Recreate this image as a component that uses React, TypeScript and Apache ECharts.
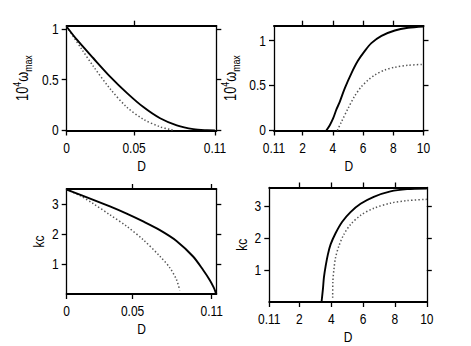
import React, { useEffect, useRef } from "react";
import * as echarts from "echarts";

// Panel 1: omega_max vs D (small D)
const p1SolidD = [0, 0.0074, 0.0198, 0.0322, 0.0446, 0.0569, 0.0693, 0.0817, 0.094, 0.104, 0.11];
const p1SolidW = [1.02, 0.895, 0.71, 0.53, 0.37, 0.23, 0.12, 0.05, 0.013, 0.002, 0];
const p1DotD = [0, 0.0111, 0.0198, 0.0322, 0.0446, 0.0569, 0.0693, 0.0767, 0.08];
const p1DotW = [1.02, 0.8, 0.63, 0.41, 0.23, 0.11, 0.036, 0.01, 0];

// Panel 2: omega_max vs D (large D)
const p2SolidD = [3.57, 3.8, 4.02, 4.24, 4.46, 4.79, 5.23, 5.67, 6.12, 6.55, 7.22, 8.1, 8.98, 10];
const p2SolidW = [0, 0.059, 0.134, 0.234, 0.319, 0.469, 0.636, 0.777, 0.885, 0.971, 1.052, 1.112, 1.142, 1.156];
const p2DotD = [4.3, 4.57, 5.01, 5.45, 5.89, 6.34, 6.78, 7.44, 8.1, 8.98, 10];
const p2DotW = [0, 0.096, 0.245, 0.383, 0.487, 0.561, 0.617, 0.673, 0.703, 0.725, 0.735];

// Panel 3: kc vs D (small D)
const p3SolidD = [0, 0.0202, 0.0328, 0.0455, 0.058, 0.0707, 0.0833, 0.0959, 0.1035, 0.1086, 0.1115, 0.1128, 0.1133];
const p3SolidK = [3.48, 3.14, 2.92, 2.68, 2.42, 2.13, 1.77, 1.25, 0.8, 0.46, 0.22, 0.08, 0];
const p3DotD = [0, 0.0101, 0.0202, 0.0328, 0.0455, 0.058, 0.0707, 0.0783, 0.0833, 0.0858];
const p3DotK = [3.48, 3.28, 3.01, 2.64, 2.26, 1.81, 1.26, 0.87, 0.48, 0.12];

// Panel 4: kc vs D (large D)
const p4SolidD = [3.39, 3.48, 3.54, 3.65, 3.79, 3.96, 4.27, 4.69, 5.21, 5.84, 6.67, 7.72, 8.76, 10];
const p4SolidK = [0, 0.42, 0.77, 1.13, 1.49, 1.8, 2.15, 2.51, 2.81, 3.07, 3.29, 3.46, 3.53, 3.55];
const p4DotD = [4.09, 4.1, 4.17, 4.27, 4.48, 4.79, 5.21, 5.84, 6.67, 7.72, 8.76, 10];
const p4DotK = [0.13, 0.62, 1.03, 1.39, 1.75, 2.11, 2.42, 2.71, 2.93, 3.09, 3.17, 3.21];

// Tick labels
const smallDTicks = [0, 0.05, 0.11];
const largeDTicks = [0.11, 2, 4, 6, 8, 10];
const omegaTicks = [0, 0.5, 1];
const kcTicks = [1, 2, 3];

const FONT = "'Liberation Sans', Arial, sans-serif";
const NARROW = 0.8;
const FS = 15;

const zip = (a: number[], b: number[]) => a.map((v, i) => [v, b[i]]);

export default function App() {
  const ref = useRef<HTMLDivElement>(null);
  useEffect(() => {
    if (!ref.current) return;
    const chart = echarts.init(ref.current, undefined, { renderer: "svg" });

    const grids = [
      { left: 66.7, top: 25.7, width: 149.6, height: 104.8 },
      { left: 274, top: 25.7, width: 149.5, height: 104.8 },
      { left: 66.7, top: 189, width: 149.6, height: 105 },
      { left: 269.3, top: 187.5, width: 157.5, height: 116 },
    ];
    const xr = [
      { min: 0, max: 0.111, labels: smallDTicks, top: [0.05] },
      { min: 0.11, max: 10, labels: largeDTicks, top: [2, 4, 6, 8] },
      { min: 0, max: 0.1135, labels: smallDTicks, top: [0.05, 0.11] },
      { min: 0.11, max: 10, labels: largeDTicks, top: [2, 4, 6, 8] },
    ];
    const yr = [
      { min: 0, max: 1.03, labels: omegaTicks, name: "omega", gap: 23 },
      { min: 0, max: 1.165, labels: omegaTicks, name: "omega", gap: 23 },
      { min: 0, max: 3.5, labels: kcTicks, name: "kc", gap: 16 },
      { min: 0, max: 3.58, labels: kcTicks, name: "kc", gap: 16 },
    ];

    const xAxis: any[] = [];
    const yAxis: any[] = [];
    const tickStyle = { color: "#000", width: 1.3 };
    xr.forEach((r, i) => {
      xAxis.push({
        type: "value",
        gridIndex: i,
        position: "bottom",
        min: r.min,
        max: r.max,
        name: "D",
        nameLocation: "middle",
        nameGap: 28,
        nameTextStyle: { fontFamily: FONT, fontSize: FS, color: "#000" },
        axisLine: { show: true, onZero: false, lineStyle: { color: "#000", width: 2 } },
        axisTick: { show: true, inside: false, length: 5, lineStyle: tickStyle, customValues: r.labels },
        axisLabel: {
          show: true,
          customValues: r.labels,
          margin: 10,
          fontFamily: FONT,
          fontSize: FS,
          color: "#000",
          formatter: (v: number) => String(v),
        },
        splitLine: { show: false },
      });
      xAxis.push({
        type: "value",
        gridIndex: i,
        position: "top",
        min: r.min,
        max: r.max,
        axisLine: { show: true, onZero: false, lineStyle: { color: "#000", width: 2 } },
        axisTick: { show: true, inside: false, length: 5, lineStyle: tickStyle, customValues: r.top },
        axisLabel: { show: false },
        splitLine: { show: false },
      });
    });
    yr.forEach((r, i) => {
      const isOmega = r.name === "omega";
      yAxis.push({
        type: "value",
        gridIndex: i,
        position: "left",
        min: r.min,
        max: r.max,
        name: isOmega ? "{a|10}{sup|4}{a|ω}{sub|max}" : "kc",
        nameLocation: "middle",
        nameGap: r.gap,
        nameTextStyle: isOmega
          ? {
              fontFamily: FONT,
              fontSize: 16,
              color: "#000",
              rich: {
                a: { fontFamily: FONT, fontSize: 16, color: "#000", lineHeight: 22, verticalAlign: "middle" },
                sup: { fontFamily: FONT, fontSize: 11, color: "#000", lineHeight: 22, verticalAlign: "top", padding: [0, 0, 6, 0] },
                sub: { fontFamily: FONT, fontSize: 11, color: "#000", lineHeight: 22, verticalAlign: "bottom", padding: [6, 0, 0, 0] },
              },
            }
          : { fontFamily: FONT, fontSize: FS, color: "#000" },
        axisLine: { show: true, onZero: false, lineStyle: { color: "#000", width: 1.3 } },
        axisTick: { show: true, inside: false, length: 5, lineStyle: tickStyle, customValues: r.labels },
        axisLabel: {
          show: true,
          customValues: r.labels,
          margin: 8,
          fontFamily: FONT,
          fontSize: FS,
          color: "#000",
          formatter: (v: number) => String(v),
        },
        splitLine: { show: false },
      });
      yAxis.push({
        type: "value",
        gridIndex: i,
        position: "right",
        min: r.min,
        max: r.max,
        axisLine: { show: true, onZero: false, lineStyle: { color: "#000", width: 1.3 } },
        axisTick: { show: true, inside: false, length: 5, lineStyle: tickStyle, customValues: r.labels },
        axisLabel: { show: false },
        splitLine: { show: false },
      });
    });

    const solid = { color: "#000", width: 1.9, type: "solid" };
    const dotted = { color: "#555", width: 1.5, type: [1.4, 2.2] };
    const mk = (i: number, data: number[][], style: any) => ({
      type: "line",
      xAxisIndex: 2 * i,
      yAxisIndex: 2 * i,
      data,
      showSymbol: false,
      symbol: "none",
      smooth: 0.3,
      lineStyle: style,
      clip: true,
      z: style === solid ? 3 : 2,
    });

    // condense the Helvetica-like text horizontally, as in the reference (narrow face)
    const condense = () => {
      const root = ref.current;
      if (!root) return;
      root.querySelectorAll("text").forEach((t) => {
        const tr = t.getAttribute("transform") || "";
        if (!tr.endsWith(`scale(${NARROW} 1)`)) {
          t.setAttribute("transform", `${tr} scale(${NARROW} 1)`.trim());
        }
      });
    };
    chart.on("finished", condense);

    chart.setOption({
      animation: false,
      backgroundColor: "#fff",
      grid: grids.map((g) => ({ ...g, containLabel: false, show: false })),
      xAxis,
      yAxis,
      series: [
        mk(0, zip(p1SolidD, p1SolidW), solid),
        mk(0, zip(p1DotD, p1DotW), dotted),
        mk(1, zip(p2SolidD, p2SolidW), solid),
        mk(1, zip(p2DotD, p2DotW), dotted),
        mk(2, zip(p3SolidD, p3SolidK), solid),
        mk(2, zip(p3DotD, p3DotK), dotted),
        mk(3, zip(p4SolidD, p4SolidK), solid),
        mk(3, zip(p4DotD, p4DotK), dotted),
      ],
    });
    condense();
    const raf = requestAnimationFrame(condense);
    return () => {
      cancelAnimationFrame(raf);
      chart.dispose();
    };
  }, []);
  return (
    <div
      ref={ref}
      style={{ position: "absolute", left: 0, top: 0, width: 471, height: 346, background: "#fff" }}
    />
  );
}
